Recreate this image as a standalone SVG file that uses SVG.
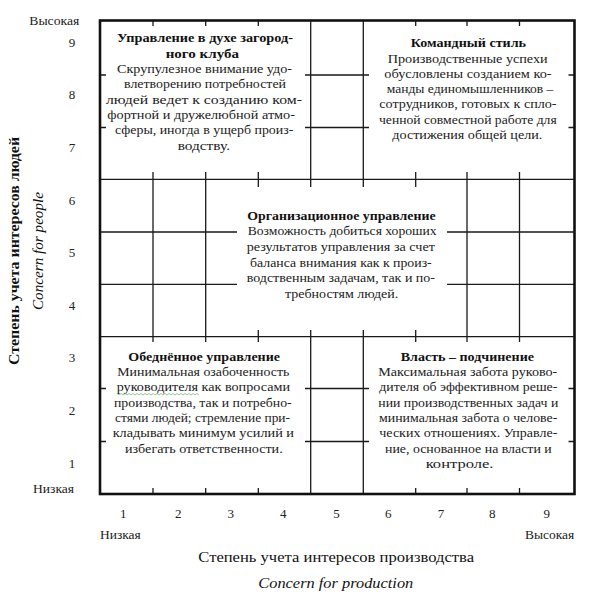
<svg xmlns="http://www.w3.org/2000/svg" width="591" height="608" viewBox="0 0 591 608">
<style>
.g{stroke:#1a1a1a;stroke-width:1.3;fill:none}
.fr{stroke:#111;stroke-width:2.6;fill:none}
.bg{fill:#fff;stroke:none}
.t{font-family:"Liberation Serif","Times New Roman",serif;font-size:13.5px;fill:#222}
.b{font-family:"Liberation Serif","Times New Roman",serif;font-size:13.5px;font-weight:bold;fill:#111}
.ax{font-family:"Liberation Serif","Times New Roman",serif;font-size:13px;fill:#222}
.axt{font-family:"Liberation Serif","Times New Roman",serif;font-size:15px;fill:#111}
.axb{font-family:"Liberation Serif","Times New Roman",serif;font-size:14px;font-weight:bold;fill:#111}
.it{font-family:"Liberation Serif","Times New Roman",serif;font-size:15.5px;font-style:italic;fill:#111}
</style>
<rect x="0" y="0" width="591" height="608" fill="#fff"/>
<g id="grid">
<path class="g" d="M153 20.5V494M205.7 20.5V494M258.3 20.5V494M310.7 20.5V494M363.3 20.5V494M415.7 20.5V494M467 20.5V494M519.5 20.5V494"/>
<path class="g" d="M100 75H574.5M100 127.5H574.5M100 179.3H574.5M100 232H574.5M100 284.3H574.5M100 336.7H574.5M100 388.5H574.5M100 441.5H574.5"/>
</g>
<g id="country-club">
<rect class="bg" x="106" y="26" width="199" height="146"/>
<text class="b" x="117" y="42.3" textLength="176" lengthAdjust="spacingAndGlyphs">Управление в духе загород-</text>
<text class="b" x="165.7" y="57.7" textLength="73.3" lengthAdjust="spacingAndGlyphs">ного клуба</text>
<text class="t" x="117" y="73" textLength="175" lengthAdjust="spacingAndGlyphs">Скрупулезное внимание удо-</text>
<text class="t" x="124" y="88.4" textLength="162" lengthAdjust="spacingAndGlyphs">влетворению потребностей</text>
<text class="t" x="106" y="103.7" textLength="196" lengthAdjust="spacingAndGlyphs">людей ведет к созданию ком-</text>
<text class="t" x="107.3" y="119" textLength="187.7" lengthAdjust="spacingAndGlyphs">фортной и дружелюбной атмо-</text>
<text class="t" x="115" y="134.4" textLength="178.3" lengthAdjust="spacingAndGlyphs">сферы, иногда в ущерб произ-</text>
<text class="t" x="177.7" y="149.8" textLength="52.3" lengthAdjust="spacingAndGlyphs">водству.</text>
</g>
<g id="team">
<rect class="bg" x="369" y="26" width="199.5" height="146"/>
<text class="b" x="410.7" y="47.3" textLength="115.3" lengthAdjust="spacingAndGlyphs">Командный стиль</text>
<text class="t" x="387.7" y="62.6" textLength="160" lengthAdjust="spacingAndGlyphs">Производственные успехи</text>
<text class="t" x="384.3" y="77.8" textLength="167.3" lengthAdjust="spacingAndGlyphs">обусловлены созданием ко-</text>
<text class="t" x="386.7" y="93" textLength="166.7" lengthAdjust="spacingAndGlyphs">манды единомышленников –</text>
<text class="t" x="379.3" y="108.3" textLength="177.3" lengthAdjust="spacingAndGlyphs">сотрудников, готовых к спло-</text>
<text class="t" x="379" y="123.5" textLength="177.7" lengthAdjust="spacingAndGlyphs">ченной совместной работе для</text>
<text class="t" x="392.3" y="138.8" textLength="150" lengthAdjust="spacingAndGlyphs">достижения общей цели.</text>
</g>
<g id="middle-road">
<rect class="bg" x="237" y="187" width="210" height="143"/>
<text class="b" x="247.3" y="219.7" textLength="188.3" lengthAdjust="spacingAndGlyphs">Организационное управление</text>
<text class="t" x="247.7" y="235.3" textLength="189" lengthAdjust="spacingAndGlyphs">Возможность добиться хороших</text>
<text class="t" x="246.7" y="250.9" textLength="188.3" lengthAdjust="spacingAndGlyphs">результатов управления за счет</text>
<text class="t" x="250" y="266.5" textLength="181.7" lengthAdjust="spacingAndGlyphs">баланса внимания как к произ-</text>
<text class="t" x="246.7" y="282.1" textLength="188.3" lengthAdjust="spacingAndGlyphs">водственным задачам, так и по-</text>
<text class="t" x="285" y="297.7" textLength="113.3" lengthAdjust="spacingAndGlyphs">требностям людей.</text>
</g>
<g id="impoverished">
<rect class="bg" x="106" y="342" width="199" height="146"/>
<text class="b" x="128.3" y="360.7" textLength="151.7" lengthAdjust="spacingAndGlyphs">Обеднённое управление</text>
<text class="t" x="117.3" y="376" textLength="172" lengthAdjust="spacingAndGlyphs">Минимальная озабоченность</text>
<text class="t" x="116.7" y="391.3" textLength="173.3" lengthAdjust="spacingAndGlyphs">руководителя как вопросами</text>
<path d="M117 393.5l2 1.5l2-1.5l2 1.5l2-1.5l2 1.5l2-1.5l2 1.5l2-1.5l2 1.5l2-1.5l2 1.5l2-1.5l2 1.5l2-1.5l2 1.5l2-1.5l2 1.5l2-1.5l2 1.5l2-1.5l2 1.5l2-1.5l2 1.5l2-1.5l2 1.5l2-1.5l2 1.5l2-1.5l2 1.5l2-1.5l2 1.5l2-1.5l2 1.5l2-1.5l2 1.5l2-1.5l2 1.5l2-1.5l2 1.5l2-1.5l2 1.5" fill="none" stroke="#7bb87b" stroke-width="0.8"/>
<text class="t" x="114" y="406.6" textLength="177.7" lengthAdjust="spacingAndGlyphs">производства, так и потребно-</text>
<text class="t" x="115" y="421.9" textLength="175" lengthAdjust="spacingAndGlyphs">стями людей; стремление при-</text>
<text class="t" x="112.7" y="437.2" textLength="181.3" lengthAdjust="spacingAndGlyphs">кладывать минимум усилий и</text>
<text class="t" x="125" y="452.5" textLength="157.7" lengthAdjust="spacingAndGlyphs">избегать ответственности.</text>
</g>
<g id="authority">
<rect class="bg" x="369" y="342" width="199.5" height="146"/>
<text class="b" x="400.7" y="360.7" textLength="133.3" lengthAdjust="spacingAndGlyphs">Власть – подчинение</text>
<text class="t" x="378.3" y="376" textLength="179" lengthAdjust="spacingAndGlyphs">Максимальная забота руково-</text>
<text class="t" x="379.3" y="391.3" textLength="178" lengthAdjust="spacingAndGlyphs">дителя об эффективном реше-</text>
<text class="t" x="378.3" y="406.6" textLength="180" lengthAdjust="spacingAndGlyphs">нии производственных задач и</text>
<text class="t" x="379" y="421.9" textLength="178.3" lengthAdjust="spacingAndGlyphs">минимальная забота о челове-</text>
<text class="t" x="379.3" y="437.2" textLength="178" lengthAdjust="spacingAndGlyphs">ческих отношениях. Управле-</text>
<text class="t" x="385" y="452.5" textLength="166.7" lengthAdjust="spacingAndGlyphs">ние, основанное на власти и</text>
<text class="t" x="425.7" y="467.8" textLength="67.7" lengthAdjust="spacingAndGlyphs">контроле.</text>
</g>
<rect id="frame" class="fr" x="100" y="20.5" width="474.5" height="473.5"/>
<g id="y-axis">
<text class="ax" x="29.3" y="24.5" textLength="50" lengthAdjust="spacingAndGlyphs">Высокая</text>
<text class="ax" x="33" y="492.5" textLength="41" lengthAdjust="spacingAndGlyphs">Низкая</text>
<g class="ax" text-anchor="middle">
<text x="72" y="46.8">9</text>
<text x="72" y="99.4">8</text>
<text x="72" y="152">7</text>
<text x="72" y="204.6">6</text>
<text x="72" y="257.2">5</text>
<text x="72" y="309.8">4</text>
<text x="72" y="362.4">3</text>
<text x="72" y="415">2</text>
<text x="72" y="467.6">1</text>
</g>
<text class="axb" transform="translate(18.5,251) rotate(-90)" x="0" y="0" text-anchor="middle" textLength="228" lengthAdjust="spacingAndGlyphs">Степень учета интересов людей</text>
<text class="it" transform="translate(43,251) rotate(-90)" x="0" y="0" text-anchor="middle" textLength="118" lengthAdjust="spacingAndGlyphs">Concern for people</text>
</g>
<g id="x-axis">
<g class="ax" text-anchor="middle">
<text x="123.3" y="518">1</text>
<text x="178.3" y="518">2</text>
<text x="230.7" y="518">3</text>
<text x="283.3" y="518">4</text>
<text x="336.5" y="518">5</text>
<text x="388.3" y="518">6</text>
<text x="441" y="518">7</text>
<text x="492.3" y="518">8</text>
<text x="546.7" y="518">9</text>
</g>
<text class="ax" x="100" y="539" textLength="40.7" lengthAdjust="spacingAndGlyphs">Низкая</text>
<text class="ax" x="525" y="539" textLength="49.3" lengthAdjust="spacingAndGlyphs">Высокая</text>
<text class="axt" x="198.3" y="561.5" textLength="275.7" lengthAdjust="spacingAndGlyphs">Степень учета интересов производства</text>
<text class="it" x="258.3" y="588" textLength="155" lengthAdjust="spacingAndGlyphs">Concern for production</text>
</g>
</svg>
